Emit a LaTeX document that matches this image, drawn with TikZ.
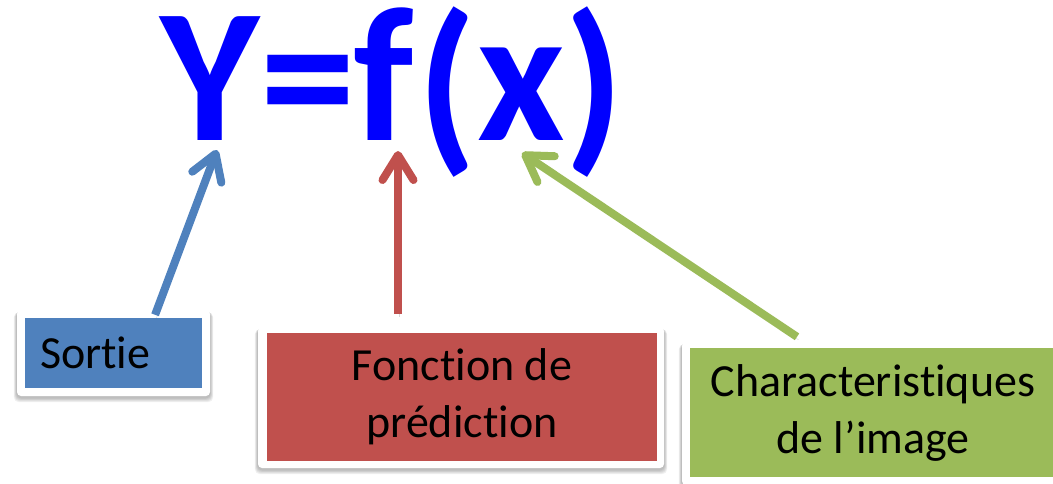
\documentclass[tikz,border=0pt]{standalone}
\usepackage{fontspec}
\setmainfont{Carlito}[Ligatures={NoCommon,NoContextual}]
\usetikzlibrary{arrows.meta,calc,backgrounds}
\definecolor{sblue}{HTML}{4F81BD}
\definecolor{sred}{HTML}{C0504D}
\definecolor{sgreen}{HTML}{9BBB59}
\definecolor{eqblue}{HTML}{0000FF}
\newcommand{\softshadow}[1]{%
  \foreach \d in {1,2,3,4,5}{%
    \fill[black,opacity=0.055,rounded corners=5pt]
      ($(#1.north west)+(-0.6*\d,1+0.3*\d)$) rectangle ($(#1.south east)+(0.6*\d,1.5+0.9*\d)$);}}
\begin{document}
\begin{tikzpicture}[x=1pt,y=-1pt,
  eq/.style={inner sep=0pt, anchor=base, text=eqblue, font=\fontsize{191}{191}\selectfont\bfseries},
  frame/.style={fill=white, rounded corners=4pt, inner sep=0pt},
  lbl/.style={font=\fontsize{46}{57}\selectfont, text=black, align=center, inner sep=0pt},
  arr/.style={line width=8pt, -{Straight Barb[length=25pt,width=31pt,round]},
    preaction={draw=black!70, opacity=0.22, transform canvas={shift={(1.5pt,-3pt)}}}}
]
\useasboundingbox (0,0) rectangle (1053,483);
\clip (0,0) rectangle (1053,483);
\begin{pgfonlayer}{background}
\fill[white] (0,0) rectangle (1053,483);
\end{pgfonlayer}

% equation
\node[eq] (Y) at (210.5,140) {Y};
\node[eq] (eqs) at (308.5,140) {=};
\node[eq] (f) at (384,140) {f};
\node[eq] (lp) at (447.5,148) {(};
\node[eq] (x) at (521.5,140) {x};
\node[eq] (rp) at (594,148) {)};

% boxes
\node[frame, minimum width=193pt, minimum height=86pt] (sf) at (113.5,353) {};
\node[lbl, fill=sblue, minimum width=177pt, minimum height=70pt, text width=147pt, inner xsep=15pt, align=left] (s) at (113.5,353) {Sortie};

\node[frame, minimum width=406pt, minimum height=141pt] (ff) at (461,397.5) {};
\node[lbl, fill=sred, minimum width=390pt, minimum height=128pt] (fn) at (462,397) {Fonction de\\prédiction};

\node[frame, minimum width=382pt, minimum height=143pt] (cf) at (873,413.5) {};
\node[lbl, fill=sgreen, minimum width=366pt, minimum height=129pt] (ch) at (873,412.5) {Characteristiques\\de l’image};

\begin{pgfonlayer}{background}
\softshadow{sf}
\softshadow{ff}
\softshadow{cf}
\end{pgfonlayer}

% arrow ends
\coordinate (ytip) at (217,150);
\coordinate (ftip) at (398,151);
\coordinate (xtip) at (522,153);
\coordinate (stail) at ($(sf.north west)!0.715!(sf.north east)+(0,5)$);
\coordinate (ftail) at ($(ff.north)+(-63,-13)$);
\coordinate (ctail) at ($(cf.north)+(-76,-5)$);

\draw[arr, sblue] (stail) -- (ytip);
\draw[arr, sred] (ftail) -- (ftip);
\draw[arr, sgreen] (ctail) -- (xtip);
\end{tikzpicture}
\end{document}
